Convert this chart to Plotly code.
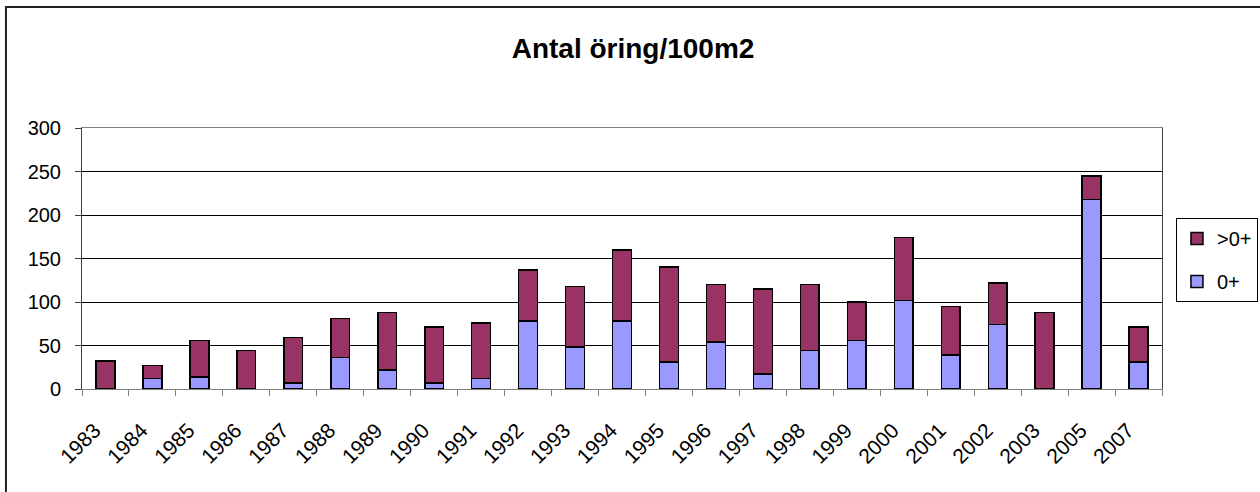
import plotly.graph_objects as go

years = ['1983', '1984', '1985', '1986', '1987', '1988', '1989', '1990', '1991', '1992', '1993',
         '1994', '1995', '1996', '1997', '1998', '1999', '2000', '2001', '2002', '2003', '2005', '2007']
# 0+ (årsungar)
yngel = [0, 12, 14, 0, 7, 36, 22, 7, 12, 78, 48, 78, 31, 54, 17, 44, 56, 102, 39, 74, 0, 218, 31]
# totalt antal, >0+ = totalt - 0+
totalt = [32, 27, 56, 44, 59, 81, 88, 71, 76, 137, 118, 160, 140, 120, 115, 120, 100, 174, 95, 122, 88, 245, 71]
aldre = [t - y for t, y in zip(totalt, yngel)]

fig = go.Figure()
fig.add_trace(go.Bar(x=years, y=yngel, name='0+', legendgroup='a', legendrank=2,
                     marker=dict(color='#9999FF', line=dict(color='black', width=1.5))))
fig.add_trace(go.Bar(x=years, y=aldre, name='>0+', legendgroup='b', legendrank=1,
                     marker=dict(color='#993366', line=dict(color='black', width=1.5))))
# osynlig trace för etikettaxeln (etiketterna sitter lite till vänster om staplarna)
fig.add_trace(go.Scatter(x=[0], y=[0], xaxis='x2', mode='markers', marker=dict(opacity=0),
                         showlegend=False, hoverinfo='skip'))

# ram runt diagrammet (bara vänster och överkant syns)
fig.add_shape(type='path', xref='paper', yref='paper',
              path='M -0.0704,-0.6 L -0.0704,1.4636 L 1.2,1.4636',
              line=dict(color='#222222', width=2))

shift = 0.23
fig.update_layout(
    width=1260, height=492,
    margin=dict(l=82, r=98, t=128, b=103),
    paper_bgcolor='white', plot_bgcolor='white',
    barmode='stack', bargap=0.6,
    font=dict(family='Liberation Sans, Arial', size=20, color='black'),
    title=dict(text='<b>Antal öring/100m2</b>', x=0.5024, xref='container', xanchor='center',
               y=0.902, yref='container', yanchor='middle',
               font=dict(size=28, family='Liberation Sans, Arial', color='black')),
    legend=dict(x=0.9333, y=0.5569, xref='container', yref='container',
                xanchor='left', yanchor='top', traceorder='grouped', tracegroupgap=14,
                bordercolor='black', borderwidth=1, font=dict(size=20)),
    xaxis=dict(type='category', tickson='boundaries', ticks='outside', showticklabels=False,
               ticklen=6, tickcolor='#808080', showline=True, linecolor='#808080',
               mirror=True, showgrid=False),
    xaxis2=dict(overlaying='x', anchor='y', side='bottom', range=[-0.5 + shift, 22.5 + shift],
                tickvals=list(range(len(years))), ticktext=years, tickangle=-45,
                ticks='', showline=False, showgrid=False, zeroline=False,
                ticklabelstandoff=24, tickfont=dict(size=21)),
    yaxis=dict(range=[0, 300], dtick=50, showgrid=True, gridcolor='black', gridwidth=1,
               ticks='outside', ticklen=6, tickcolor='#404040', showline=True,
               linecolor='#404040', mirror=True, zeroline=False, tickfont=dict(size=20),
               ticklabelstandoff=10),
)

fig.write_html('out.html', config={'displayModeBar': False},
               post_script="document.body.style.margin='0';")
